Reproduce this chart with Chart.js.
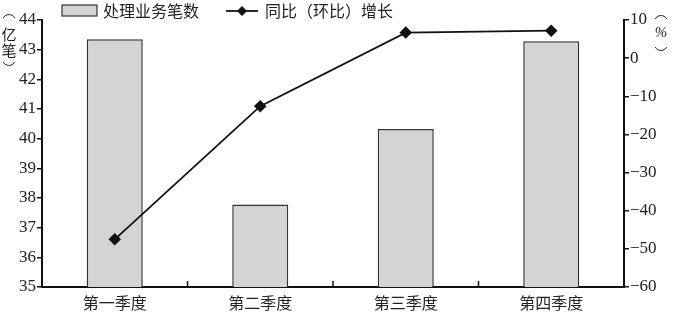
<!DOCTYPE html>
<html>
<head>
<meta charset="utf-8">
<script src="https://cdn.jsdelivr.net/npm/chart.js@4.4.1/dist/chart.umd.min.js"></script>
<style>
  html, body { margin: 0; padding: 0; background: #fff; }
  #wrap { width: 673px; height: 315px; position: relative; }
</style>
</head>
<body>
<div id="wrap"><canvas id="chart"></canvas></div>
<script>
// data
const quarters = ['第一季度', '第二季度', '第三季度', '第四季度'];
const volume = [43.35, 37.78, 40.33, 43.28];      // 亿笔
const growth = [-47.5, -12.6, 6.7, 7.2];          // %
const leftTicks = [35, 36, 37, 38, 39, 40, 41, 42, 43, 44];
const rightTicks = [-60, -50, -40, -30, -20, -10, 0, 10];

const serif = '"Liberation Serif", "Noto Sans CJK SC", serif';
const cjk = '"Noto Sans CJK SC", "Liberation Serif", sans-serif';

// vertical parenthesis drawn as a thin arc
function paren(ctx, x, y, up) {
    ctx.beginPath();
    if (up) ctx.arc(x, y + 5, 6.5, Math.PI * 1.15, Math.PI * 1.85);
    else ctx.arc(x, y - 5, 6.5, Math.PI * 0.15, Math.PI * 0.85);
    ctx.stroke();
}

const extras = {
    id: 'extras',
    afterDraw(chart) {
        const ctx = chart.ctx;
        const xs = chart.scales.x;
        const area = chart.chartArea;
        ctx.save();
        // inward ticks between categories
        ctx.strokeStyle = '#111';
        ctx.lineWidth = 1.5;
        for (let i = 0; i < quarters.length - 1; i++) {
            const bx = (xs.getPixelForTick(i) + xs.getPixelForTick(i + 1)) / 2;
            ctx.beginPath();
            ctx.moveTo(bx, area.bottom);
            ctx.lineTo(bx, area.bottom - 6);
            ctx.stroke();
        }
        // legend
        ctx.fillStyle = '#d4d4d4';
        ctx.fillRect(62, 5, 35, 11);
        ctx.strokeStyle = '#333';
        ctx.lineWidth = 1.2;
        ctx.strokeRect(62, 5, 35, 11);
        ctx.fillStyle = '#222';
        ctx.font = '16px ' + cjk;
        ctx.textAlign = 'left';
        ctx.textBaseline = 'middle';
        ctx.fillText('处理业务笔数', 103, 11);
        ctx.strokeStyle = '#111';
        ctx.lineWidth = 1.8;
        ctx.beginPath();
        ctx.moveTo(226, 11);
        ctx.lineTo(258, 11);
        ctx.stroke();
        ctx.beginPath();
        ctx.moveTo(242, 6);
        ctx.lineTo(247, 11);
        ctx.lineTo(242, 16);
        ctx.lineTo(237, 11);
        ctx.closePath();
        ctx.fillStyle = '#111';
        ctx.fill();
        ctx.fillStyle = '#222';
        ctx.fillText('同比（环比）增长', 265, 11);
        // axis titles
        ctx.textAlign = 'center';
        ctx.font = '15px ' + cjk;
        ctx.fillText('亿', 9, 34);
        ctx.fillText('笔', 9, 50);
        ctx.font = 'italic 15px ' + serif;
        ctx.fillText('%', 661, 33);
        ctx.strokeStyle = '#222';
        ctx.lineWidth = 1;
        paren(ctx, 9, 16, true);
        paren(ctx, 9, 64, false);
        paren(ctx, 661, 17, true);
        paren(ctx, 661, 49, false);
        ctx.restore();
    }
};

new Chart(document.getElementById('chart'), {
    data: {
        labels: quarters,
        datasets: [
            {
                type: 'line',
                label: '同比（环比）增长',
                data: growth,
                yAxisID: 'y1',
                borderColor: '#111',
                borderWidth: 1.8,
                pointStyle: 'rectRot',
                pointRadius: 5,
                pointBackgroundColor: '#111',
                pointBorderColor: '#111',
                tension: 0,
                order: 0
            },
            {
                type: 'bar',
                label: '处理业务笔数',
                data: volume,
                yAxisID: 'y',
                backgroundColor: '#d4d4d4',
                borderColor: '#333',
                borderWidth: 1.5,
                categoryPercentage: 1,
                barPercentage: 0.385,
                order: 1
            }
        ]
    },
    options: {
        responsive: true,
        maintainAspectRatio: false,
        animation: false,
        layout: { padding: { top: 20, left: 0, right: 0, bottom: 0 } },
        plugins: {
            legend: { display: false },
            tooltip: { enabled: false }
        },
        scales: {
            x: {
                border: { display: true, color: '#111', width: 2 },
                grid: { drawOnChartArea: false, drawTicks: false },
                ticks: { color: '#222', font: { family: cjk, size: 16 }, padding: 6 },
                afterFit(scale) { scale.height = 28; }
            },
            y: {
                position: 'left',
                min: 35,
                max: 44,
                afterBuildTicks(scale) { scale.ticks = leftTicks.map(v => ({ value: v })); },
                border: { display: true, color: '#111', width: 2 },
                grid: { drawOnChartArea: false, drawTicks: true, tickLength: 5, color: '#111', lineWidth: 1.5 },
                ticks: { color: '#222', font: { family: serif, size: 17 }, padding: 1 },
                afterFit(scale) { scale.width = 42; }
            },
            y1: {
                position: 'right',
                min: -60,
                max: 10,
                afterBuildTicks(scale) { scale.ticks = rightTicks.map(v => ({ value: v })); },
                border: { display: true, color: '#111', width: 2 },
                grid: { drawOnChartArea: false, drawTicks: true, tickLength: 5, color: '#111', lineWidth: 1.5 },
                ticks: {
                    color: '#222',
                    font: { family: serif, size: 17 },
                    padding: 1,
                    callback: v => String(v).replace('-', '\u2212')
                },
                afterFit(scale) { scale.width = 49; }
            }
        }
    },
    plugins: [extras]
});
</script>
</body>
</html>
